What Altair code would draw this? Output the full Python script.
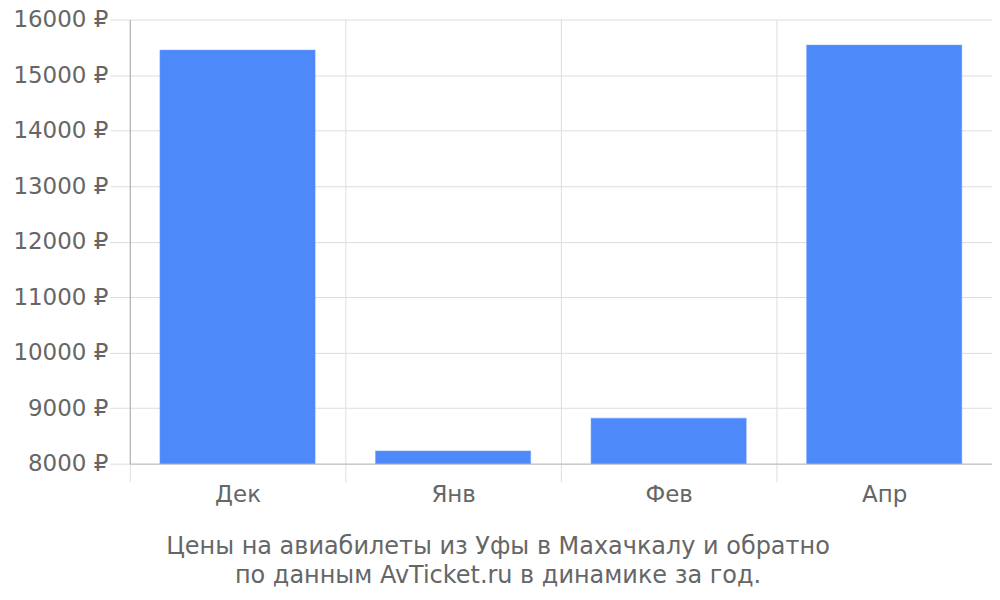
import altair as alt
import pandas as pd

months = ["Дек", "Янв", "Фев", "Апр"]
prices = [15450, 8230, 8820, 15540]

df = pd.DataFrame({"month": months, "price": prices})

FONT = "DejaVu Sans"
GRAY = "#666666"

chart = alt.Chart(df).mark_bar(
    color="#4d89f9", stroke="#6f9ffb", strokeWidth=0.5,
    width=alt.RelativeBandSize(0.72),
    clip=True,
).encode(
    x=alt.X(
        "month:N",
        sort=months,
        title=None,
        scale=alt.Scale(paddingInner=0, paddingOuter=0),
        axis=alt.Axis(
            tickBand="extent",
            grid=True,
            gridColor="#dddddd",
            tickColor="#dddddd",
            tickSize=18,
            domainColor="#bbbbbb",
            labelFont=FONT,
            labelFontSize=23,
            labelColor=GRAY,
            labelPadding=2,
            labelAngle=0,
        ),
    ),
    y=alt.Y(
        "price:Q",
        title=None,
        scale=alt.Scale(domain=[8000, 16000], nice=False, zero=False),
        axis=alt.Axis(
            values=list(range(8000, 16001, 1000)),
            labelExpr="datum.value + ' ₽'",
            grid=True,
            gridColor="#dddddd",
            tickColor="#dddddd",
            tickSize=20,
            domainColor="#aaaaaa",
            labelFont=FONT,
            labelFontSize=23,
            labelColor=GRAY,
            labelPadding=2,
        ),
    ),
).properties(
    width=864,
    height=445,
    autosize=alt.AutoSizeParams(type="none"),
    padding={"left": 122, "top": 11, "right": 0, "bottom": 126},
    title=alt.TitleParams(
        text=["Цены на авиабилеты из Уфы в Махачкалу и обратно",
              "по данным AvTicket.ru в динамике за год."],
        orient="bottom",
        anchor="middle",
        font=FONT,
        fontSize=24,
        fontWeight="normal",
        color=GRAY,
        dx=-63,
        offset=29,
        lineHeight=29,
    ),
).configure_view(stroke=None)

chart.save("out.html", embed_options={"renderer": "svg", "actions": False})
